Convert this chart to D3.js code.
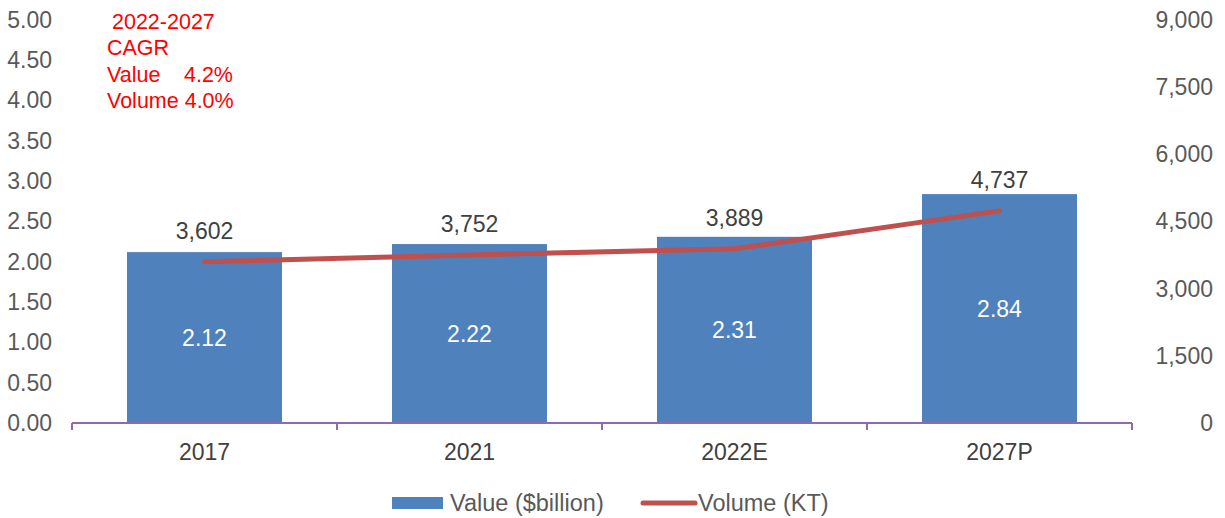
<!DOCTYPE html>
<html>
<head>
<meta charset="utf-8">
<script src="https://cdn.jsdelivr.net/npm/d3@7"></script>
<style>
  body { margin: 0; background: #fff; }
  text { font-family: "Liberation Sans", Arial, sans-serif; }
</style>
</head>
<body>
<div id="chart"></div>
<script>
var categories = ["2017", "2021", "2022E", "2027P"];
var values = [2.12, 2.22, 2.31, 2.84];       // $billion (bars, left axis)
var volumes = [3602, 3752, 3889, 4737];      // KT (line, right axis)
var leftTicks = [0, 0.5, 1, 1.5, 2, 2.5, 3, 3.5, 4, 4.5, 5];
var rightTicks = [0, 1500, 3000, 4500, 6000, 7500, 9000];
var notes = [["2022-2027", ""], ["CAGR", ""], ["Value", "4.2%"], ["Volume 4.0%", ""]];

var svg_width = 1225, svg_height = 518;
var margin = {top: 20, left: 72, right: 93, bottom: 95};
var width = svg_width - margin.left - margin.right;
var height = svg_height - margin.top - margin.bottom;
var fs = 23;

var svg = d3.select("#chart").append("svg")
    .attr("width", svg_width)
    .attr("height", svg_height);

var g = svg.append("g")
    .attr("transform", `translate(${margin.left},${margin.top})`);

var x_scale = d3.scaleBand().domain(categories).range([0, width]).paddingInner(0.415).paddingOuter(0.2075);
var y_left = d3.scaleLinear().domain([0, 5]).range([height, 0]);
var y_right = d3.scaleLinear().domain([0, 9000]).range([height, 0]);

// left axis labels
var leftAxis = d3.axisLeft(y_left).tickValues(leftTicks).tickSize(0).tickPadding(20).tickFormat(d3.format(".2f"));
g.append("g").call(leftAxis)
    .call(s => s.select(".domain").remove())
    .selectAll("text")
    .attr("font-size", fs).attr("fill", "#595959")
    .attr("font-family", "Liberation Sans, Arial, sans-serif");

var rightAxis = d3.axisRight(y_right).tickValues(rightTicks).tickSize(0).tickPadding(0).tickFormat(d3.format(","));
g.append("g").attr("transform", `translate(${width + 81},0)`).call(rightAxis)
    .call(s => s.select(".domain").remove())
    .selectAll("text")
    .attr("text-anchor", "end")
    .attr("font-size", fs).attr("fill", "#595959")
    .attr("font-family", "Liberation Sans, Arial, sans-serif");

// bars
g.selectAll("rect.bar").data(values).enter().append("rect")
    .attr("class", "bar")
    .attr("x", (d, i) => x_scale(categories[i]))
    .attr("y", d => y_left(d))
    .attr("width", x_scale.bandwidth())
    .attr("height", d => height - y_left(d))
    .attr("fill", "#4F81BD");

// bar value labels (inside)
g.selectAll("text.val").data(values).enter().append("text")
    .attr("class", "val")
    .attr("x", (d, i) => x_scale(categories[i]) + x_scale.bandwidth() / 2)
    .attr("y", d => (y_left(d) + height) / 2 + 8)
    .attr("text-anchor", "middle")
    .attr("font-size", fs).attr("fill", "#fff")
    .text(d => d.toFixed(2));

// volume labels above line points
g.selectAll("text.vol").data(volumes).enter().append("text")
    .attr("class", "vol")
    .attr("x", (d, i) => x_scale(categories[i]) + x_scale.bandwidth() / 2)
    .attr("y", d => y_right(d) - 23)
    .attr("text-anchor", "middle")
    .attr("font-size", fs).attr("fill", "#404040")
    .text(d => d3.format(",")(d));

// x axis
var bottomAxis = d3.axisBottom(x_scale).tickSize(0).tickPadding(21);
var xg = g.append("g").attr("transform", `translate(0,${height})`).call(bottomAxis);
xg.select(".domain").remove();
xg.selectAll("text").attr("font-size", fs).attr("fill", "#404040")
    .attr("font-family", "Liberation Sans, Arial, sans-serif");
g.append("line").attr("x1", 0).attr("x2", width).attr("y1", height).attr("y2", height)
    .attr("stroke", "#8E6BAF").attr("stroke-width", 2);
var step = width / categories.length;
g.selectAll("line.tick").data(d3.range(categories.length + 1)).enter().append("line")
    .attr("class", "tick")
    .attr("x1", d => d * step).attr("x2", d => d * step)
    .attr("y1", height).attr("y2", height + 7)
    .attr("stroke", "#8E6BAF").attr("stroke-width", 2);

// volume line
var line = d3.line()
    .x((d, i) => x_scale(categories[i]) + x_scale.bandwidth() / 2)
    .y(d => y_right(d));
g.append("path").datum(volumes)
    .attr("d", line)
    .attr("fill", "none")
    .attr("stroke", "#C0504D")
    .attr("stroke-width", 5)
    .attr("stroke-linecap", "round");

// CAGR note
notes.forEach(function(t, i) {
    svg.append("text").attr("x", i == 0 ? 112 : 107).attr("y", 29 + i * 26.4)
        .attr("font-size", 21.5).attr("fill", "#FF0000").text(t[0]);
    if (t[1]) {
        svg.append("text").attr("x", 233).attr("y", 29 + i * 26.4).attr("text-anchor", "end")
            .attr("font-size", 21.5).attr("fill", "#FF0000").text(t[1]);
    }
});

// legend
var leg = svg.append("g");
leg.append("rect").attr("x", 392).attr("y", 497).attr("width", 51).attr("height", 12).attr("fill", "#4F81BD");
leg.append("text").attr("x", 450).attr("y", 511).attr("font-size", 23.5).attr("fill", "#595959").text("Value ($billion)");
leg.append("line").attr("x1", 643).attr("x2", 695).attr("y1", 503).attr("y2", 503)
    .attr("stroke", "#C0504D").attr("stroke-width", 5).attr("stroke-linecap", "round");
leg.append("text").attr("x", 698).attr("y", 511).attr("font-size", 23.5).attr("fill", "#595959").text("Volume (KT)");
</script>
</body>
</html>
